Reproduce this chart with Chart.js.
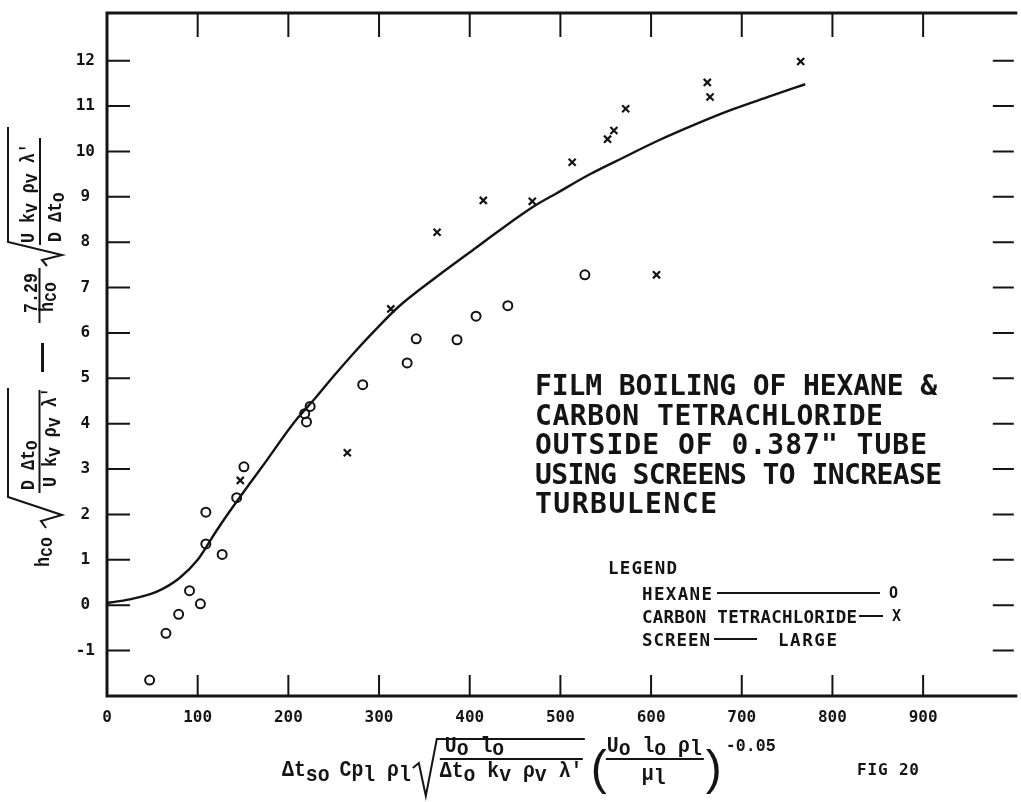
<!DOCTYPE html>
<html>
<head>
<meta charset="utf-8">
<script src="https://cdn.jsdelivr.net/npm/chart.js@4/dist/chart.umd.min.js"></script>
<style>
  html, body { margin: 0; padding: 0; background: #fff; }
  #wrap { width: 1021px; height: 802px; }
</style>
</head>
<body>
<div id="wrap"><canvas id="c" width="1021" height="802"></canvas></div>
<script>
// Hexane runs (open circles)
const hexaneX = [47, 65, 79, 91, 103, 109, 109, 127, 143, 151, 218, 220, 224, 282, 331, 341, 386, 407, 442, 527];
const hexaneY = [-1.65, -0.62, -0.2, 0.32, 0.03, 1.35, 2.05, 1.12, 2.37, 3.05, 4.22, 4.04, 4.38, 4.86, 5.34, 5.87, 5.85, 6.37, 6.6, 7.28];

// Carbon tetrachloride runs (crosses)
const ctclX = [147, 265, 313, 364, 415, 469, 513, 552, 559, 572, 606, 662, 665, 765];
const ctclY = [2.75, 3.36, 6.53, 8.22, 8.92, 8.9, 9.76, 10.27, 10.46, 10.94, 7.28, 11.52, 11.2, 11.98];

// Correlation curve
const curveX = [0, 25, 55, 80, 100, 120, 135, 157, 171, 208, 230, 250, 275, 300, 320, 361, 405, 430, 470, 496, 532, 568, 608, 648, 689, 729, 770];
const curveY = [0.05, 0.13, 0.3, 0.6, 1.0, 1.62, 2.06, 2.67, 3.05, 4.07, 4.57, 5.05, 5.62, 6.15, 6.55, 7.2, 7.85, 8.22, 8.78, 9.08, 9.49, 9.85, 10.24, 10.59, 10.92, 11.2, 11.48];

// Axis ticks
const xTicks = [0, 100, 200, 300, 400, 500, 600, 700, 800, 900];
const yTicks = [-1, 0, 1, 2, 3, 4, 5, 6, 7, 8, 9, 10, 11, 12];

// Caption block and legend text
const titleLines = ['FILM BOILING OF HEXANE &', 'CARBON TETRACHLORIDE', 'OUTSIDE OF 0.387" TUBE', 'USING SCREENS TO INCREASE', 'TURBULENCE'];
const legendRows = ['HEXANE', 'CARBON TETRACHLORIDE', 'SCREEN'];

const INK = '#141414';
const MONO = '"Liberation Mono", "DejaVu Sans Mono", monospace';
const LETTER = '"DejaVu Sans Mono", "Liberation Mono", monospace';

const pts = (xs, ys) => xs.map((x, i) => ({ x: x, y: ys[i] }));

// Draws a run of typewriter text, narrowed by hs; parts beginning with '_' are lowered as subscripts.
function runs(ctx, x, y, parts, size, drop, hs) {
  ctx.font = 'bold ' + size + 'px ' + MONO;
  let cx = x;
  for (const p of parts) {
    const sub = p.charAt(0) === '_';
    const t = sub ? p.slice(1) : p;
    ctx.save();
    ctx.translate(cx, y + (sub ? drop : 0));
    ctx.scale(hs, 1);
    ctx.fillText(t, 0, 0);
    ctx.restore();
    cx += ctx.measureText(t).width * hs;
  }
  return cx;
}

function poly(ctx, p, w) {
  ctx.lineWidth = w;
  ctx.beginPath();
  ctx.moveTo(p[0][0], p[0][1]);
  for (let i = 1; i < p.length; i++) ctx.lineTo(p[i][0], p[i][1]);
  ctx.stroke();
}

// Spreads a line of lettering over a given width using letter spacing
function spreadText(ctx, text, x, y, width) {
  ctx.letterSpacing = '0px';
  const w = ctx.measureText(text).width;
  const gap = (width - w) / Math.max(text.length - 1, 1);
  ctx.letterSpacing = gap.toFixed(2) + 'px';
  ctx.fillText(text, x, y);
  ctx.letterSpacing = '0px';
}

// Plot frame with inward tick marks on all four sides
const framePlugin = {
  id: 'frame',
  afterDraw(chart) {
    const { ctx, chartArea: a, scales: { x, y } } = chart;
    ctx.save();
    ctx.strokeStyle = INK;
    ctx.lineCap = 'square';
    poly(ctx, [[a.right + 2, a.top], [a.left, a.top], [a.left, a.bottom], [a.right + 2, a.bottom]], 3);
    ctx.lineCap = 'butt';
    ctx.lineWidth = 2;
    ctx.beginPath();
    for (const v of xTicks) {
      if (v === 0) continue;
      const px = x.getPixelForValue(v);
      ctx.moveTo(px, a.bottom); ctx.lineTo(px, a.bottom - 21);
      ctx.moveTo(px, a.top); ctx.lineTo(px, a.top + 24);
    }
    for (const v of yTicks) {
      const py = y.getPixelForValue(v);
      ctx.moveTo(a.left, py); ctx.lineTo(a.left + 23, py);
      ctx.moveTo(a.right, py); ctx.lineTo(a.right - 21, py);
    }
    ctx.stroke();
    ctx.restore();
  }
};

// Caption, legend and the two axis expressions
const textPlugin = {
  id: 'texts',
  afterDraw(chart) {
    const ctx = chart.ctx;
    ctx.save();
    ctx.fillStyle = INK;
    ctx.strokeStyle = INK;
    ctx.textAlign = 'left';
    ctx.textBaseline = 'alphabetic';

    // caption block
    ctx.font = 'bold 28px ' + LETTER;
    const rightEdges = [937, 883, 927, 942, 717];
    titleLines.forEach((t, i) => spreadText(ctx, t, 535, 395 + i * 29.5, rightEdges[i] - 535));

    // legend
    ctx.font = 'bold 17.5px ' + LETTER;
    spreadText(ctx, 'LEGEND', 608, 574, 69);
    spreadText(ctx, legendRows[0], 642, 600, 70);
    spreadText(ctx, legendRows[1], 642, 623, 215);
    spreadText(ctx, legendRows[2], 642, 646, 68);
    spreadText(ctx, 'LARGE', 778, 646, 59);
    ctx.lineWidth = 2;
    ctx.beginPath();
    ctx.moveTo(717, 593); ctx.lineTo(880, 593);
    ctx.moveTo(859, 616); ctx.lineTo(883, 616);
    ctx.moveTo(714, 639); ctx.lineTo(757, 639);
    ctx.stroke();
    ctx.font = 'bold 15px ' + LETTER;
    ctx.fillText('O', 889, 598);
    ctx.fillText('X', 892, 621);

    // figure number
    ctx.font = 'bold 16px ' + LETTER;
    spreadText(ctx, 'FIG 20', 857, 775, 62);

    // x-axis expression
    const fs = 22, hx = 0.9, dy = 6;
    let cx = runs(ctx, 282, 770 + dy, ['\u0394t', '_so'], fs, 5, hx);
    cx = runs(ctx, cx + 10, 770 + dy, ['Cp', '_l', ' \u03c1', '_l'], fs, 5, hx);
    const r0 = cx + 2;
    poly(ctx, [[r0, 762 + dy], [r0 + 6, 757 + dy], [r0 + 13, 790 + dy], [r0 + 24, 733 + dy], [r0 + 172, 733 + dy]], 2);
    runs(ctx, r0 + 32, 746 + dy, ['U', '_o', ' l', '_o'], fs, 3, hx);
    poly(ctx, [[r0 + 27, 753 + dy], [r0 + 170, 753 + dy]], 2);
    runs(ctx, r0 + 27, 771 + dy, ['\u0394t', '_o', ' k', '_v', ' \u03c1', '_v', ' \u03bb\''], fs, 4, hx);
    const p0 = r0 + 178;
    ctx.font = '48px "Liberation Sans", Arial, sans-serif';
    ctx.fillText('(', p0, 778 + dy);
    const n0 = p0 + 16;
    const nEnd = runs(ctx, n0, 746 + dy, ['U', '_o', ' l', '_o', ' \u03c1', '_l'], fs, 3, hx);
    poly(ctx, [[n0 - 1, 753 + dy], [nEnd + 2, 753 + dy]], 2);
    runs(ctx, n0 + 35, 774 + dy, ['\u03bc', '_l'], fs, 4, hx);
    ctx.font = '48px "Liberation Sans", Arial, sans-serif';
    ctx.fillText(')', nEnd + 4, 778 + dy);
    runs(ctx, nEnd + 24, 745 + dy, ['-0.05'], 18, 0, 0.92);

    // y-axis expression, written bottom-to-top
    ctx.save();
    ctx.translate(44, 567);
    ctx.rotate(-Math.PI / 2);
    const ys = 20, hy = 0.83;
    runs(ctx, 0, 5, ['h', '_co'], ys, 3, hy);
    poly(ctx, [[39, 2], [46, -3], [52, 18], [70, -36], [179, -36]], 2);
    runs(ctx, 77, -10, ['D \u0394t', '_o'], ys, 3, hy);
    poly(ctx, [[74, -4.5], [177, -4.5]], 2);
    runs(ctx, 80, 12, ['U k', '_v', ' \u03c1', '_v', ' \u03bb\''], ys, 4, hy);
    ctx.font = 'bold 29px "Liberation Sans", Arial, sans-serif';
    ctx.fillText('\u2014', 195, 7);
    runs(ctx, 254, -7, ['7.29'], ys, 0, hy);
    poly(ctx, [[244, -4.5], [299, -4.5]], 2);
    runs(ctx, 255, 9, ['h', '_co'], ys, 3, hy);
    poly(ctx, [[301, 3], [307, -2], [312, 18], [325, -36], [440, -36]], 2);
    runs(ctx, 324, -10, ['U k', '_v', ' \u03c1', '_v', ' \u03bb\''], ys, 3, hy);
    poly(ctx, [[322, -4], [429, -4]], 2);
    runs(ctx, 325, 17, ['D \u0394t', '_o'], ys, 3, hy);
    ctx.restore();

    ctx.restore();
  }
};

const tickFont = { family: LETTER, size: 16, weight: 'bold' };

new Chart(document.getElementById('c'), {
  type: 'scatter',
  data: {
    datasets: [
      {
        label: 'curve',
        data: pts(curveX, curveY),
        showLine: true,
        borderColor: INK,
        borderWidth: 2.4,
        pointRadius: 0,
        cubicInterpolationMode: 'monotone',
        fill: false
      },
      {
        label: 'HEXANE',
        data: pts(hexaneX, hexaneY),
        pointStyle: 'circle',
        pointRadius: 4.5,
        borderWidth: 2,
        borderColor: INK,
        backgroundColor: 'rgba(0,0,0,0)'
      },
      {
        label: 'CARBON TETRACHLORIDE',
        data: pts(ctclX, ctclY),
        pointStyle: 'crossRot',
        pointRadius: 5,
        borderWidth: 2.2,
        borderColor: INK
      }
    ]
  },
  options: {
    responsive: false,
    animation: false,
    devicePixelRatio: 1,
    layout: { padding: { top: 13, right: 0, bottom: 0, left: 0 } },
    plugins: { legend: { display: false }, tooltip: { enabled: false } },
    scales: {
      x: {
        type: 'linear', min: 0, max: 1000,
        afterFit: s => { s.height = 106; s.paddingLeft = 0; s.paddingRight = 0; },
        afterBuildTicks: s => { s.ticks = xTicks.map(v => ({ value: v })); },
        grid: { display: false, drawTicks: false },
        border: { display: false },
        ticks: { padding: 12, color: INK, font: tickFont, maxRotation: 0, autoSkip: false, callback: v => String(v) }
      },
      y: {
        type: 'linear', min: -2, max: 13.05,
        afterFit: s => { s.width = 107; s.paddingTop = 0; s.paddingBottom = 0; },
        afterBuildTicks: s => { s.ticks = yTicks.map(v => ({ value: v })); },
        grid: { display: false, drawTicks: false },
        border: { display: false },
        ticks: { padding: 12, crossAlign: 'center', color: INK, font: tickFont, autoSkip: false, callback: v => String(v) }
      }
    }
  },
  plugins: [framePlugin, textPlugin]
});
</script>
</body>
</html>
